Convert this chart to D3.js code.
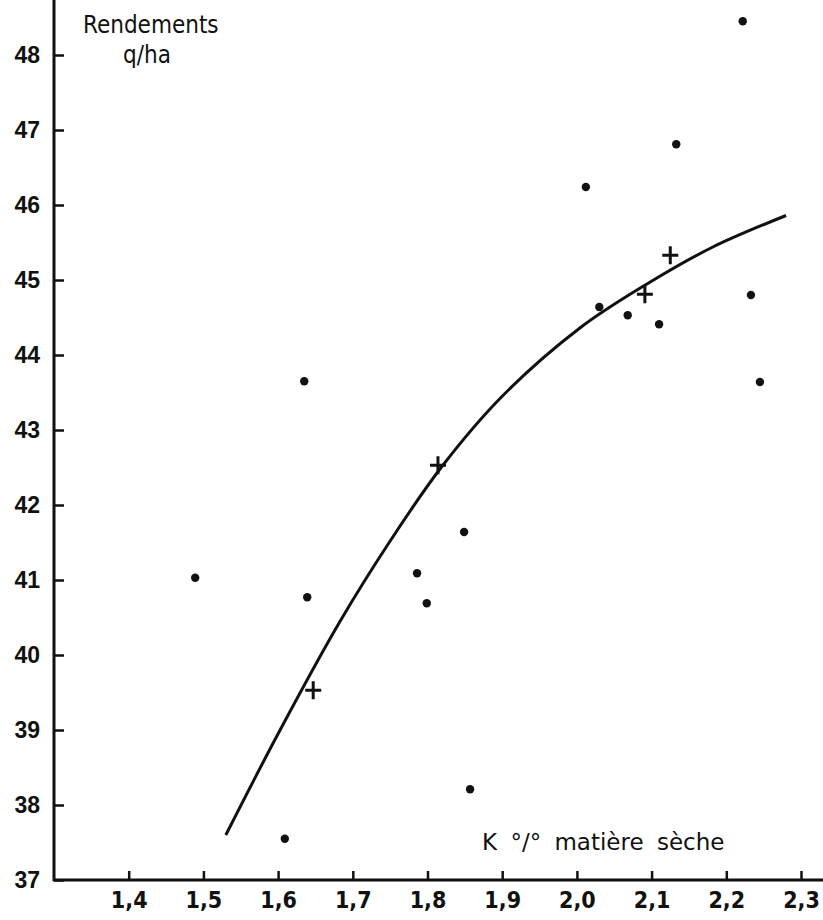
<!DOCTYPE html>
<html>
<head>
<meta charset="utf-8">
<script src="https://cdn.jsdelivr.net/npm/d3@7"></script>
<style>
  body { margin: 0; background: #fff; }
  svg { display: block; }
</style>
</head>
<body>
<div id="chart"></div>
<script>
// Tick values
const xTicks = [1.4, 1.5, 1.6, 1.7, 1.8, 1.9, 2.0, 2.1, 2.2, 2.3];
const yTicks = [37, 38, 39, 40, 41, 42, 43, 44, 45, 46, 47, 48];

// Observations (dots): K % dry matter, yield q/ha
const dotK     = [1.489, 1.635, 1.639, 1.609, 1.786, 1.799, 1.849, 1.857, 2.012, 2.030, 2.068, 2.110, 2.133, 2.222, 2.233, 2.245];
const dotYield = [41.03, 43.65, 40.77, 37.55, 41.09, 40.69, 41.64, 38.21, 46.24, 44.64, 44.53, 44.41, 46.81, 48.45, 44.80, 43.64];

// Mean points (crosses)
const crossK     = [1.647, 1.814, 2.091, 2.125];
const crossYield = [39.53, 42.53, 44.81, 45.33];

// Fitted curve
const curveK     = [1.53, 1.60, 1.683, 1.75, 1.819, 1.90, 2.004, 2.091, 2.18, 2.28];
const curveYield = [37.6, 38.95, 40.45, 41.52, 42.51, 43.45, 44.36, 44.93, 45.43, 45.86];

const width = 823;
const height = 920;

const svg = d3.select("#chart").append("svg")
    .attr("width", width)
    .attr("height", height);

svg.append("rect").attr("width", width).attr("height", height).attr("fill", "#fff");

// Scales
const x = d3.scaleLinear().domain([1.3, 2.3]).range([54, 801]);
const y = d3.scaleLinear().domain([37, 48]).range([880, 55]);

const ink = "#111";

// Y axis (ticks point inward)
const gy = svg.append("g")
    .attr("transform", `translate(${x(1.3)},0)`)
    .call(d3.axisLeft(y).tickValues(yTicks).tickSize(-10).tickPadding(14).tickFormat(d3.format("d")));
gy.select(".domain").remove();
gy.selectAll(".tick line").attr("stroke", ink).attr("stroke-width", 2.5);
gy.selectAll(".tick text")
    .attr("fill", ink)
    .style("font", "bold 23px 'Liberation Sans', sans-serif");

// X axis (ticks point up)
const gx = svg.append("g")
    .attr("transform", `translate(0,${y(37)})`)
    .call(d3.axisBottom(x).tickValues(xTicks).tickSize(-9).tickPadding(12)
      .tickFormat(d => d3.format(".1f")(d).replace(".", ",")));
gx.select(".domain").remove();
gx.selectAll(".tick line").attr("stroke", ink).attr("stroke-width", 2.5);
gx.selectAll(".tick text")
    .attr("fill", ink)
    .style("font", "bold 23px 'DejaVu Sans Condensed', sans-serif");

// axis lines drawn by hand so they run to the page edges
svg.append("line")
    .attr("x1", x(1.3)).attr("x2", x(1.3))
    .attr("y1", 0).attr("y2", y(37) + 1)
    .attr("stroke", ink).attr("stroke-width", 3);
svg.append("line")
    .attr("x1", x(1.3) - 1).attr("x2", width)
    .attr("y1", y(37)).attr("y2", y(37))
    .attr("stroke", ink).attr("stroke-width", 3);

// Axis titles
const title = svg.append("text")
    .attr("fill", ink)
    .style("font", "24px 'DejaVu Sans Condensed', sans-serif");
title.append("tspan").attr("x", 83).attr("y", 33).text("Rendements");
title.append("tspan").attr("x", 147).attr("y", 63).attr("text-anchor", "middle").text("q/ha");

svg.append("text")
    .attr("x", 482).attr("y", 850)
    .attr("fill", ink)
    .style("font", "23px 'DejaVu Sans', sans-serif")
    .style("word-spacing", "6px")
    .text("K °/° matière sèche");

// Curve
const curveData = curveK.map((k, i) => [k, curveYield[i]]);
svg.append("path")
    .datum(curveData)
    .attr("fill", "none")
    .attr("stroke", ink)
    .attr("stroke-width", 3)
    .attr("d", d3.line().x(d => x(d[0])).y(d => y(d[1])).curve(d3.curveCatmullRom));

// Dots
svg.append("g")
    .selectAll("circle")
    .data(dotK.map((k, i) => [k, dotYield[i]]))
    .join("circle")
    .attr("cx", d => x(d[0]))
    .attr("cy", d => y(d[1]))
    .attr("r", 4.2)
    .attr("fill", ink);

// Crosses
const cs = 8;
svg.append("g")
    .attr("stroke", ink)
    .attr("stroke-width", 3)
    .selectAll("path")
    .data(crossK.map((k, i) => [k, crossYield[i]]))
    .join("path")
    .attr("d", d => {
      const cx = x(d[0]), cy = y(d[1]);
      return `M${cx - cs},${cy}H${cx + cs}M${cx},${cy - cs - 1}V${cy + cs + 1}`;
    });
</script>
</body>
</html>
